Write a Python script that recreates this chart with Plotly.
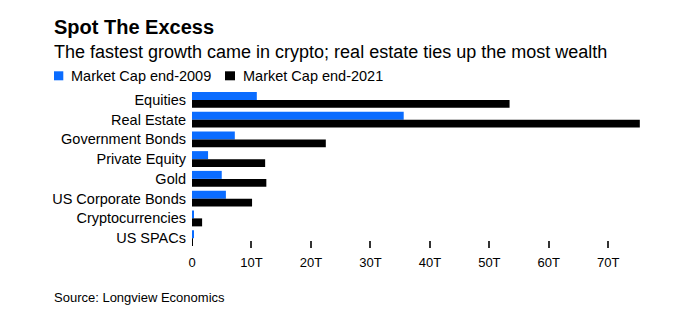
import plotly.graph_objects as go

categories = ["Equities", "Real Estate", "Government Bonds", "Private Equity", "Gold",
              "US Corporate Bonds", "Cryptocurrencies", "US SPACs"]
cap_2009 = [10.9, 35.6, 7.2, 2.7, 5.0, 5.7, 0.25, 0.2]
cap_2021 = [53.4, 75.3, 22.5, 12.3, 12.5, 10.1, 1.7, 0.15]
tick_vals = [0, 10, 20, 30, 40, 50, 60, 70]
tick_text = ["0", "10T", "20T", "30T", "40T", "50T", "60T", "70T"]

BLUE = "#0a6cff"
BLACK = "#000000"
FONT = "Liberation Sans, Arial, sans-serif"

W, H = 689, 325
L, R, T, B = 192, 48, 90, 77
PW, PH = W - L - R, H - T - B

def px(x):
    return (x - L) / PW

def py(y):
    return (H - B - y) / PH

fig = go.Figure()
fig.add_trace(go.Bar(y=categories, x=cap_2009, orientation="h", name="Market Cap end-2009",
                     marker=dict(color=BLUE, line=dict(width=0))))
fig.add_trace(go.Bar(y=categories, x=cap_2021, orientation="h", name="Market Cap end-2021",
                     marker=dict(color=BLACK, line=dict(width=0))))

fig.update_layout(
    width=W, height=H,
    margin=dict(l=L, r=R, t=T, b=B),
    paper_bgcolor="white", plot_bgcolor="white",
    barmode="group", bargap=0.19, bargroupgap=0,
    showlegend=False,
    font=dict(family=FONT, color="#000", size=13),
)
fig.update_yaxes(autorange="reversed", showgrid=False, zeroline=False, showline=False,
                 ticks="", tickfont=dict(size=14.5, color="#000"), ticklabelstandoff=5)
fig.update_xaxes(range=[0, 75.5], tickvals=tick_vals, ticktext=tick_text, showgrid=False,
                 zeroline=False, showline=False, ticks="inside", ticklen=7, tickwidth=1.5,
                 tickcolor="#333", tickfont=dict(size=13, color="#000"), ticklabelstandoff=5)

anns = [
    dict(text="<b>Spot The Excess</b>", x=52, y=26.5, size=20),
    dict(text="The fastest growth came in crypto; real estate ties up the most wealth", x=52, y=51.5, size=18),
    dict(text="Market Cap end-2009", x=69, y=76.3, size=14.5),
    dict(text="Market Cap end-2021", x=240.5, y=76.3, size=14.5),
    dict(text="Source: Longview Economics", x=51.5, y=297.5, size=13),
]
fig.update_layout(annotations=[
    dict(text=a["text"], x=px(a["x"]), y=py(a["y"]), xref="paper", yref="paper",
         showarrow=False, xanchor="left", yanchor="middle", xshift=0,
         font=dict(size=a["size"], color="#000"))
    for a in anns
])

# legend swatches
swatches = [(54, 63.3, BLUE), (225, 235, BLACK)]
fig.update_layout(shapes=[
    dict(type="rect", xref="paper", yref="paper", x0=px(x0), x1=px(x1), y0=py(80.3), y1=py(71.3),
         fillcolor=c, line=dict(width=0))
    for x0, x1, c in swatches
])

fig.write_html("out.html")
